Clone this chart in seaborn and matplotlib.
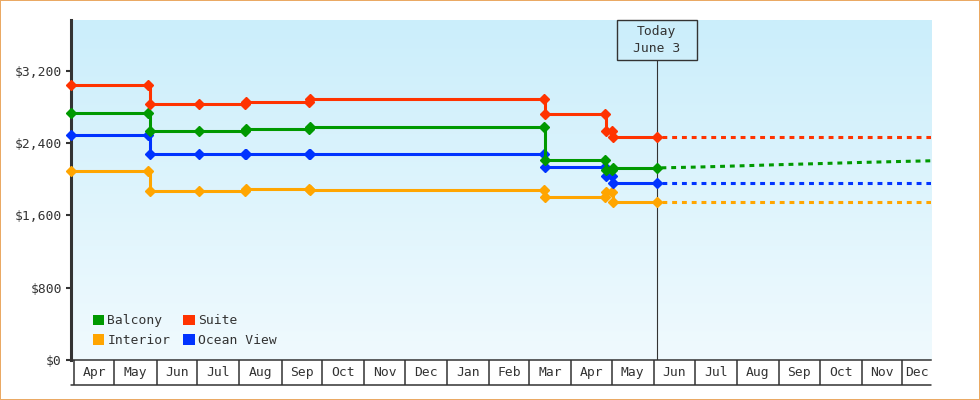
import numpy as np
import pandas as pd
import matplotlib
matplotlib.use("Agg")
import matplotlib.pyplot as plt
import matplotlib.dates as mdates
from matplotlib.colors import LinearSegmentedColormap
from matplotlib.patches import Patch, Rectangle
from matplotlib.transforms import blended_transform_factory
from matplotlib.ticker import FuncFormatter
import seaborn as sns

# fare history, one entry per observed price (old/new pairs around each change)
dates = pd.to_datetime([
    "2023-03-30", "2023-05-26", "2023-05-27", "2023-07-02",
    "2023-08-05", "2023-08-06", "2023-09-21", "2023-09-22",
    "2024-03-12", "2024-03-13", "2024-04-26", "2024-04-27",
    "2024-05-01", "2024-05-02", "2024-06-03",
])
balcony = [2736, 2736, 2534, 2534, 2534, 2556, 2556, 2581,
           2581, 2210, 2210, 2100, 2100, 2124, 2124]
suite = [3040, 3040, 2836, 2829, 2829, 2851, 2851, 2885,
         2885, 2722, 2722, 2537, 2537, 2464, 2464]
interior = [2088, 2088, 1873, 1867, 1867, 1889, 1889, 1878,
            1878, 1807, 1807, 1855, 1855, 1745, 1745]
ocean_view = [2490, 2490, 2276, 2276, 2276, 2276, 2276, 2276,
              2276, 2132, 2132, 2030, 2030, 1962, 1962]

# projected fares after today
forecast_dates = pd.to_datetime([
    "2024-06-03", "2024-07-01", "2024-08-01", "2024-09-01",
    "2024-10-01", "2024-11-01", "2024-12-01", "2024-12-22",
])
balcony_fc = [2124, 2133, 2146, 2160, 2172, 2185, 2196, 2203]
suite_fc = [2464, 2464, 2464, 2464, 2464, 2464, 2464, 2464]
interior_fc = [1745, 1745, 1745, 1745, 1745, 1745, 1745, 1745]
ocean_view_fc = [1962, 1962, 1962, 1962, 1962, 1962, 1962, 1962]

today = pd.Timestamp("2024-06-03")
today_label = "Today\nJune 3"
x_start = pd.Timestamp("2023-03-30")
x_end = pd.Timestamp("2024-12-22")
month_starts = pd.date_range("2023-04-01", "2024-12-01", freq="MS")
month_labels = ["Apr", "May", "Jun", "Jul", "Aug", "Sep", "Oct", "Nov", "Dec",
                "Jan", "Feb", "Mar", "Apr", "May", "Jun", "Jul", "Aug", "Sep",
                "Oct", "Nov", "Dec"]
y_ticks = [0, 800, 1600, 2400, 3200]

colors = {"Balcony": "#009900", "Suite": "#FF3300",
          "Interior": "#FFA500", "Ocean View": "#0033FF"}
dark = "#333333"

sns.set_style("white")
plt.rcParams["font.family"] = ["DejaVu Sans Mono", "DejaVu Sans"]
plt.rcParams["font.size"] = 9.4

fig = plt.figure(figsize=(9.8, 4), dpi=100)
fig.patch.set_edgecolor("#EAA964")
fig.patch.set_linewidth(1.2)
ax = fig.add_axes([71 / 980, 40 / 400, 860 / 980, 340 / 400])

# background gradient
grad = LinearSegmentedColormap.from_list("bg", ["#CBEEFB", "#F0FAFE"])
ax.imshow(np.linspace(0, 1, 256).reshape(-1, 1), cmap=grad, aspect="auto",
          extent=[0, 1, 0, 1], transform=ax.transAxes, zorder=0)

series = [
    ("Interior", interior, interior_fc),
    ("Ocean View", ocean_view, ocean_view_fc),
    ("Balcony", balcony, balcony_fc),
    ("Suite", suite, suite_fc),
]
for name, vals, fc in series:
    sns.lineplot(x=forecast_dates, y=fc, ax=ax, color=colors[name],
                 estimator=None, errorbar=None, lw=2.2,
                 linestyle=(1.6, (1.6, 1.6)), zorder=3)
    sns.lineplot(x=dates, y=vals, ax=ax, color=colors[name],
                 estimator=None, errorbar=None, drawstyle="steps-post",
                 lw=2.2, marker="D", markersize=5, markeredgewidth=1,
                 markeredgecolor=colors[name], clip_on=False, zorder=4)

ax.set_xlim(x_start, x_end)
ax.set_ylim(0, 3760)

# today marker
box_h = 40 / 340
px_per_day = 860 / (mdates.date2num(x_end) - mdates.date2num(x_start))
box_w = 80 / px_per_day
blend = blended_transform_factory(ax.transData, ax.transAxes)
ax.axvline(today, ymin=0, ymax=1 - box_h, color=dark, lw=0.8, zorder=2)
ax.add_patch(Rectangle((mdates.date2num(today) - box_w / 2, 1 - box_h),
                       box_w, box_h, transform=blend, facecolor="none",
                       edgecolor=dark, lw=1, clip_on=False, zorder=5))
ax.text(today, 1 - box_h / 2, today_label, transform=blend, ha="center",
        va="center", ma="center", linespacing=1.35, color=dark, zorder=6)

# y axis
ax.set_yticks(y_ticks)
ax.yaxis.set_major_formatter(FuncFormatter(lambda v, p: f"${v:,.0f}"))
ax.tick_params(axis="y", length=3.6, width=1.5, color=dark, pad=3,
               labelcolor=dark, left=True)

# x axis: month boxes
bounds = list(mdates.date2num(month_starts)) + [mdates.date2num(x_end)]
centers = [(a + b) / 2 for a, b in zip(bounds[:-1], bounds[1:])]
ax.set_xticks(mdates.date2num(month_starts))
ax.set_xticklabels([])
ax.set_xticks(centers, labels=month_labels, minor=True)
ax.tick_params(axis="x", which="major", direction="out", length=18,
               width=1.1, color=dark, bottom=True)
ax.tick_params(axis="x", which="minor", length=0, pad=4, labelcolor=dark)
ax.plot([0, 1], [-25 / 340, -25 / 340], transform=ax.transAxes,
        clip_on=False, color=dark, lw=1.1)
ax.set_xlabel("")
ax.set_ylabel("")

for side in ["top", "right"]:
    ax.spines[side].set_visible(False)
ax.spines["left"].set_color(dark)
ax.spines["left"].set_linewidth(2.2)
ax.spines["bottom"].set_color(dark)
ax.spines["bottom"].set_linewidth(1.1)

handles = [Patch(facecolor=colors[n], edgecolor="none", label=n)
           for n in ["Balcony", "Interior", "Suite", "Ocean View"]]
ax.legend(handles=handles, ncol=2, loc="lower left",
          bbox_to_anchor=(0.018, 0.019), frameon=False, borderpad=0,
          handlelength=0.85, handleheight=0.85, handletextpad=0.25,
          labelspacing=0.5, columnspacing=1.0, labelcolor=dark)

fig.savefig("out.png", dpi=100, edgecolor=fig.get_edgecolor())
